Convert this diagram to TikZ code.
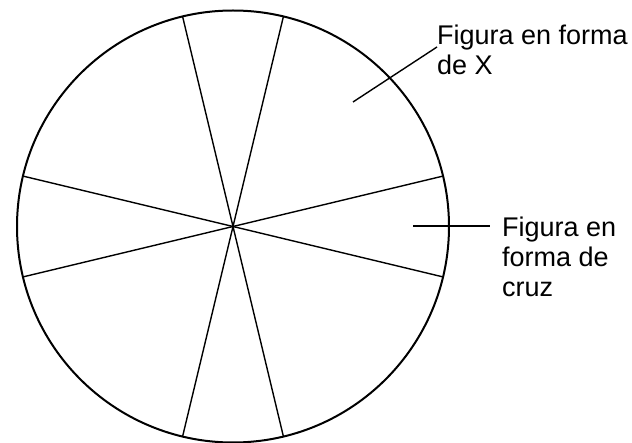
\documentclass[tikz,border=0pt]{standalone}
\usepackage{fontspec}
\setmainfont{Liberation Sans}
\usetikzlibrary{positioning, calc}

\begin{document}
\begin{tikzpicture}[
  x=1pt, y=-1pt,
  font=\fontsize{27}{30}\selectfont,
  rim/.style={line width=2pt},
  spoke/.style={line width=1.4pt},
  lead/.style={line width=1.4pt},
  lab/.style={align=left, anchor=north west, inner sep=0pt}
]
\useasboundingbox (0,0) rectangle (632,443);
\coordinate (c) at (233,226.5);
\draw[rim] (c) circle[radius=216];
\foreach \a in {13.5,76.5,103.5,166.5}
  \draw[spoke] ($(c)+(\a:216)$) -- ($(c)+(\a+180:216)$);

\node[lab] (xlabel) at (437,25) {Figura en forma\\de X};
\node[lab] (cruzlabel) at (502,217) {Figura en\\forma de\\cruz};
\coordinate (xtip) at (353,102);
\coordinate (cruztip) at (413,226);

\draw[lead] (xtip) -- ([yshift=-22pt]xlabel.north west);
\draw[lead] (cruztip) -- ([xshift=-12pt,yshift=-9pt]cruzlabel.north west);
\end{tikzpicture}
\end{document}
